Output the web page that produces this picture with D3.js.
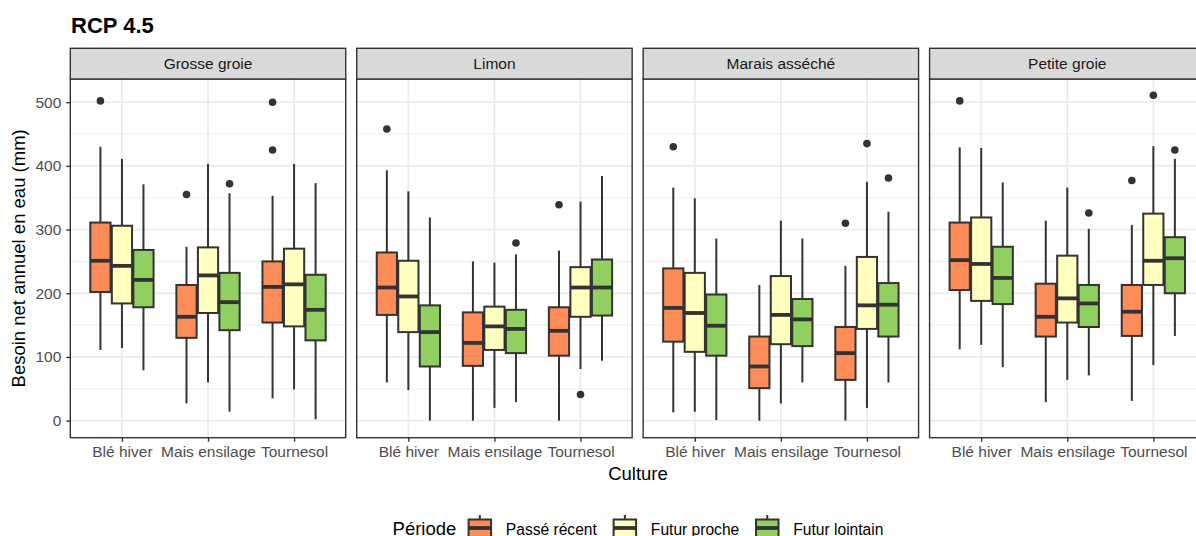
<!DOCTYPE html>
<html><head><meta charset="utf-8">
<script src="https://cdn.jsdelivr.net/npm/d3@7"></script>
<style>
body{margin:0;background:#fff;overflow:hidden}
text{font-family:"Liberation Sans",Arial,Helvetica,sans-serif}
</style>
</head><body>
<svg id="chart" width="1196" height="536"></svg>
<script>
// ---------- data ----------
const titleText = "RCP 4.5";
const soils = ["Grosse groie", "Limon", "Marais asséché", "Petite groie"];
const crops = ["Blé hiver", "Mais ensilage", "Tournesol"];
const periods = ["Passé récent", "Futur proche", "Futur lointain"];
const periodColors = ["#FC8D59", "#FFFFBF", "#91CF60"];
const yTicks = [0, 100, 200, 300, 400, 500];
const yMinor = [50, 150, 250, 350, 450];

// five-number summaries [lower whisker, Q1, median, Q3, upper whisker]
// order: crop (Blé hiver, Mais ensilage, Tournesol) x period (Passé récent, Futur proche, Futur lointain)
const grosseGroie = [
  [111, 202, 251, 311, 430], [114, 184, 243, 306, 411], [79, 178, 221, 268, 371],
  [27, 130, 163, 213, 273], [60, 169, 228, 272, 403], [14, 142, 186, 232, 357],
  [35, 154, 210, 250, 353], [49, 148, 214, 270, 403], [2, 126, 174, 229, 373]
];
const limon = [
  [60, 166, 209, 264, 393], [48, 139, 195, 251, 360], [0, 85, 139, 181, 319],
  [0, 86, 122, 170, 250], [20, 111, 148, 179, 248], [29, 106, 144, 174, 261],
  [0, 102, 141, 178, 267], [81, 163, 209, 241, 344], [94, 165, 209, 253, 384]
];
const maraisAsseche = [
  [13, 124, 177, 239, 366], [14, 108, 169, 232, 349], [1, 102, 149, 198, 286],
  [0, 51, 85, 132, 213], [27, 120, 166, 227, 314], [60, 117, 159, 191, 286],
  [0, 64, 106, 147, 243], [20, 144, 181, 257, 375], [60, 132, 182, 216, 328]
];
const petiteGroie = [
  [112, 205, 252, 311, 429], [119, 188, 246, 319, 428], [84, 183, 224, 273, 374],
  [29, 132, 163, 215, 314], [64, 154, 192, 259, 366], [71, 147, 184, 213, 301],
  [31, 133, 171, 213, 307], [87, 213, 251, 325, 431], [133, 200, 255, 288, 411]
];
// outliers, same order
const outGrosseGroie = [[502], [], [], [355], [], [372], [500, 425], [], []];
const outLimon = [[458], [], [], [], [], [279], [339], [41], []];
const outMaraisAsseche = [[430], [], [], [], [], [], [310], [435], [381]];
const outPetiteGroie = [[502], [], [], [], [], [326], [377], [511], [425]];

const stats = [grosseGroie, limon, maraisAsseche, petiteGroie];
const outliers = [outGrosseGroie, outLimon, outMaraisAsseche, outPetiteGroie];

// ---------- layout ----------
const svg = d3.select("#chart");
const panelTop = 79, panelBottom = 437.7, stripTop = 48.3;
const dark = "#333333";
const lw = 2.0;

const fx = d3.scaleBand().domain(soils).range([70.3, 1205]).paddingInner(11 / 286.4).paddingOuter(0);
const pw = fx.bandwidth();
const y = d3.scaleLinear().domain([-26.8, 536.4]).range([panelBottom, panelTop]);
const x = d3.scalePoint().domain(crops).range([0, pw]).padding(0.6);
const step = x.step();
const dodge = 0.25 * step, boxW = 0.235 * step;

svg.append("text").attr("x", 71).attr("y", 32.7)
  .attr("font-size", 22).attr("font-weight", "bold").attr("fill", "#000").text(titleText);

soils.forEach((soil, si) => {
  const g = svg.append("g").attr("transform", `translate(${fx(soil)},0)`);
  g.append("rect").attr("x", 0).attr("y", panelTop).attr("width", pw).attr("height", panelBottom - panelTop).attr("fill", "#fff");
  g.selectAll(".minor").data(yMinor).join("line")
    .attr("x1", 0).attr("x2", pw).attr("y1", d => y(d)).attr("y2", d => y(d))
    .attr("stroke", "#EBEBEB").attr("stroke-width", 0.9);
  g.selectAll(".majorY").data(yTicks).join("line")
    .attr("x1", 0).attr("x2", pw).attr("y1", d => y(d)).attr("y2", d => y(d))
    .attr("stroke", "#EBEBEB").attr("stroke-width", 1.8);
  g.selectAll(".majorX").data(crops).join("line")
    .attr("x1", d => x(d)).attr("x2", d => x(d)).attr("y1", panelTop).attr("y2", panelBottom)
    .attr("stroke", "#EBEBEB").attr("stroke-width", 1.8);

  crops.forEach((crop, ci) => {
    periods.forEach((per, pi) => {
      const k = ci * 3 + pi;
      const [lo, q1, med, q3, hi] = stats[si][k];
      const cx = x(crop) + (pi - 1) * dodge;
      const bg = g.append("g");
      bg.append("line").attr("x1", cx).attr("x2", cx).attr("y1", y(q3)).attr("y2", y(hi))
        .attr("stroke", dark).attr("stroke-width", lw);
      bg.append("line").attr("x1", cx).attr("x2", cx).attr("y1", y(q1)).attr("y2", y(lo))
        .attr("stroke", dark).attr("stroke-width", lw);
      bg.append("rect").attr("x", cx - boxW / 2).attr("width", boxW)
        .attr("y", y(q3)).attr("height", y(q1) - y(q3))
        .attr("fill", periodColors[pi]).attr("stroke", dark).attr("stroke-width", lw);
      bg.append("line").attr("x1", cx - boxW / 2).attr("x2", cx + boxW / 2)
        .attr("y1", y(med)).attr("y2", y(med))
        .attr("stroke", dark).attr("stroke-width", 3.8);
      bg.selectAll("circle").data(outliers[si][k]).join("circle")
        .attr("cx", cx).attr("cy", d => y(d)).attr("r", 3.8).attr("fill", dark);
    });
  });

  g.append("rect").attr("x", 0).attr("y", panelTop).attr("width", pw).attr("height", panelBottom - panelTop)
    .attr("fill", "none").attr("stroke", dark).attr("stroke-width", 1.4);
  g.append("rect").attr("x", 0).attr("y", stripTop).attr("width", pw).attr("height", panelTop - stripTop)
    .attr("fill", "#D9D9D9").attr("stroke", dark).attr("stroke-width", 1.4);
  g.append("text").attr("x", pw / 2).attr("y", 68.5).attr("text-anchor", "middle")
    .attr("font-size", 15.5).attr("fill", "#1A1A1A").text(soil);

  const xa = g.append("g").attr("transform", `translate(0,${panelBottom})`)
    .call(d3.axisBottom(x).tickSize(4).tickPadding(4.5));
  xa.select(".domain").remove();
  xa.selectAll("line").attr("stroke", dark).attr("stroke-width", 1.4);
  xa.selectAll("text").attr("font-size", 15.5).attr("fill", "#4D4D4D")
    .attr("font-family", '"Liberation Sans",Arial,sans-serif');

  if (si === 0) {
    const ya = g.append("g").call(d3.axisLeft(y).tickValues(yTicks).tickSize(4).tickPadding(5));
    ya.select(".domain").remove();
    ya.selectAll("line").attr("stroke", dark).attr("stroke-width", 1.4);
    ya.selectAll("text").attr("font-size", 15.5).attr("fill", "#4D4D4D")
      .attr("font-family", '"Liberation Sans",Arial,sans-serif');
  }
});

svg.append("text").attr("x", 638).attr("y", 480).attr("text-anchor", "middle")
  .attr("font-size", 18.5).attr("fill", "#000").text("Culture");
svg.append("text").attr("transform", `translate(25,${(panelTop + panelBottom) / 2}) rotate(-90)`)
  .attr("text-anchor", "middle").attr("font-size", 18.5).attr("fill", "#000")
  .text("Besoin net annuel en eau (mm)");

// legend: laid out sequentially from measured text widths, centred under the plot
const legend = svg.append("g");
const keyW = 30, kbw = 22.5, gapTitle = 8.5, gapLabel = 11, gapItem = 13;
let cur = 0;
const lt = legend.append("text").attr("x", cur).attr("y", 535.3).attr("font-size", 18.5).attr("fill", "#000").text("Période");
cur += lt.node().getComputedTextLength() + gapTitle;
periods.forEach((p, i) => {
  const kx = cur + keyW / 2;
  legend.append("line").attr("x1", kx).attr("x2", kx).attr("y1", 515).attr("y2", 550)
    .attr("stroke", dark).attr("stroke-width", lw);
  legend.append("rect").attr("x", kx - kbw / 2).attr("width", kbw).attr("y", 519.5).attr("height", 22)
    .attr("fill", periodColors[i]).attr("stroke", dark).attr("stroke-width", lw);
  legend.append("line").attr("x1", kx - kbw / 2).attr("x2", kx + kbw / 2).attr("y1", 528).attr("y2", 528)
    .attr("stroke", dark).attr("stroke-width", 3.8);
  cur += keyW + gapLabel;
  const t = legend.append("text").attr("x", cur).attr("y", 535).attr("font-size", 15.6).attr("fill", "#000").text(p);
  cur += t.node().getComputedTextLength();
  if (i < periods.length - 1) cur += gapItem;
});
legend.attr("transform", `translate(${638 - cur / 2},0)`);
</script>
</body></html>
